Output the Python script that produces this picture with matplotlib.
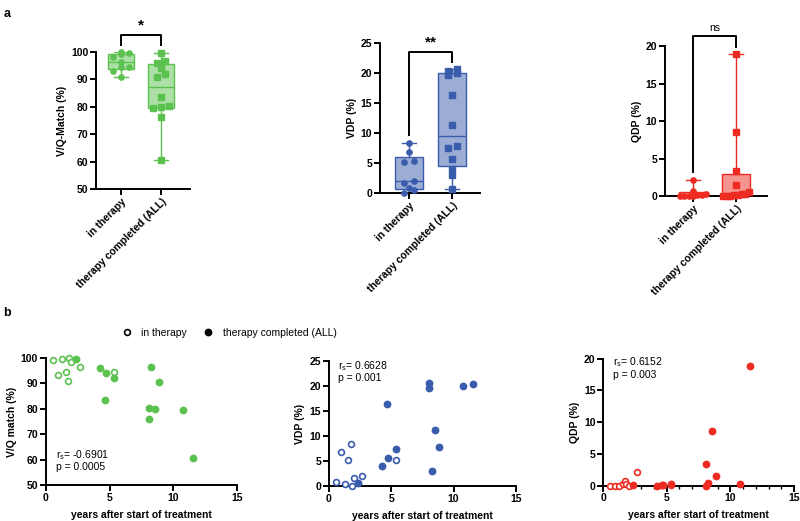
import numpy as np
import matplotlib
matplotlib.use('Agg')
import matplotlib.pyplot as plt
from matplotlib.lines import Line2D
from matplotlib.ticker import MultipleLocator
from matplotlib.colors import to_rgba

plt.rcParams['font.family'] = 'Liberation Sans'
plt.rcParams['mathtext.fontset'] = 'custom'
plt.rcParams['mathtext.rm'] = 'Liberation Sans'
plt.rcParams['mathtext.it'] = 'Liberation Sans'

# years after start of treatment (same patients in every panel)
years_in = [0.56, 0.96, 1.28, 1.57, 1.76, 1.84, 2.0, 2.67, 5.36]
years_done = [2.38, 4.27, 4.64, 4.72, 5.36, 8.06, 8.06, 8.27, 8.54, 8.86, 10.76, 11.56]

vq_in = [99.2, 93.2, 99.6, 94.6, 90.8, 100.0, 98.3, 96.5, 94.6]
vq_done = [99.5, 96.0, 83.5, 94.1, 92.1, 80.4, 76.1, 96.6, 80.1, 90.7, 79.6, 60.7]

vdp_in = [0.8, 6.8, 0.47, 5.2, 8.4, 0.0, 1.67, 2.0, 5.33]
vdp_done = [0.6, 4.07, 16.4, 5.6, 7.53, 20.6, 19.6, 3.0, 11.27, 7.8, 20.07, 20.4]

qdp_in = [0.0, 0.0, 0.0, 0.2, 0.7, 0.3, 0.0, 2.2, 0.1]
qdp_done = [0.15, 0.0, 0.1, 0.05, 0.25, 3.4, 0.0, 0.5, 8.6, 1.5, 0.3, 18.9]

groups = ['in therapy', 'therapy completed (ALL)']
signif = ['*', '**', 'ns']
rs_text = ['r$_\\mathrm{s}$= -0.6901\np = 0.0005',
           'r$_\\mathrm{s}$= 0.6628\np = 0.001',
           'r$_\\mathrm{s}$= 0.6152\np = 0.003']

green = '#5cc24f'
blue = '#3a5cad'
red = '#ee2b22'


def style(ax):
    ax.spines['top'].set_visible(False)
    ax.spines['right'].set_visible(False)
    for s in ['left', 'bottom']:
        ax.spines[s].set_linewidth(1.4)
    ax.tick_params(width=1.4, length=4, labelsize=7.5, pad=1.5)
    for lab in ax.get_yticklabels() + ax.get_xticklabels():
        lab.set_fontweight('bold')


def swarm(vals, thr, step):
    vals = np.asarray(vals)
    order = np.argsort(vals, kind='stable')
    offs = np.zeros(len(vals))
    group = [order[0]]

    def assign(g):
        k = len(g)
        st = step if k < 4 else min(step, 0.6 / (k - 1))
        for j, idx in enumerate(g):
            offs[idx] = (j - (k - 1) / 2) * st

    for i in order[1:]:
        if vals[i] - vals[group[0]] < thr:
            group.append(i)
        else:
            assign(group)
            group = [i]
    assign(group)
    return offs


def box_panel(ax, a, b, color, ylim, yticks, ylabel, xlim, br, sig):
    stats = []
    for v in (a, b):
        q1, med, q3 = np.percentile(v, [25, 50, 75], method='weibull')
        stats.append(dict(med=med, q1=q1, q3=q3, whislo=min(v), whishi=max(v), fliers=[]))
    ax.bxp(stats, positions=[0, 1], widths=0.65, capwidths=0.33, patch_artist=True,
           showfliers=False,
           boxprops=dict(facecolor=to_rgba(color, 0.5), edgecolor=color, linewidth=1.0),
           medianprops=dict(color=color, linewidth=1.0),
           whiskerprops=dict(color=color, linewidth=1.0),
           capprops=dict(color=color, linewidth=1.0))
    rng = ylim[1] - ylim[0]
    for pos, v, mk in ((0, a, 'o'), (1, b, 's')):
        offs = swarm(v, 0.03 * rng, 0.21)
        ax.plot(pos + offs, v, mk, color=color, ms=3.8, ls='none', clip_on=False, zorder=4)
    ax.set_xlim(*xlim)
    ax.set_ylim(*ylim)
    ax.set_yticks(yticks)
    ax.set_xticks([0, 1])
    ax.set_xticklabels(groups, rotation=45, ha='right', rotation_mode='anchor')
    ax.set_ylabel(ylabel, fontsize=7.5, fontweight='bold', labelpad=3)
    style(ax)
    top, l1, l2 = br
    ax.plot([0, 0, 1, 1], [l1, top, top, l2], color='black', lw=1.4, clip_on=False)
    ax.text(0.5, top + 0.02 * rng, sig, ha='center', va='bottom', clip_on=False,
            fontsize=11 if sig != 'ns' else 7.5,
            fontweight='bold' if sig != 'ns' else 'normal')


def scatter_panel(ax, ya, yb, color, ylim, yticks, ylabel, txt, txtpos):
    ax.plot(years_in, ya, 'o', mfc='white', mec=color, mew=1.2, ms=4.2, ls='none', clip_on=False, zorder=4)
    ax.plot(years_done, yb, 'o', color=color, ms=4.6, ls='none', clip_on=False, zorder=4)
    ax.set_xlim(0, 15)
    ax.set_ylim(*ylim)
    ax.set_yticks(yticks)
    ax.set_xticks([0, 5, 10, 15])
    ax.set_xlabel('years after start of treatment', fontsize=7.5, fontweight='bold', labelpad=5)
    ax.set_ylabel(ylabel, fontsize=7.5, fontweight='bold', labelpad=3)
    ax.text(txtpos[0], txtpos[1], txt, transform=ax.transAxes, fontsize=7.5,
            va='center', ha='left', linespacing=1.05)
    style(ax)


fig = plt.figure(figsize=(8, 5.21), dpi=100)

a1 = fig.add_axes([0.12, 0.6372, 0.1175, 0.263])
box_panel(a1, vq_in, vq_done, green, (50, 100), [50, 60, 70, 80, 90, 100], 'V/Q-Match (%)',
          (-0.625, 1.725), (106.2, 102.5, 102.5), signif[0])

a2 = fig.add_axes([0.475, 0.6296, 0.125, 0.2879])
box_panel(a2, vdp_in, vdp_done, blue, (0, 25), [0, 5, 10, 15, 20, 25], 'VDP (%)',
          (-0.674, 1.65), (23.5, 9.7, 21.9), signif[1])

a3 = fig.add_axes([0.83125, 0.6238, 0.1275, 0.2879])
box_panel(a3, qdp_in, qdp_done, red, (0, 20), [0, 5, 10, 15, 20], 'QDP (%)',
          (-0.65, 1.72), (21.3, 3.2, 19.9), signif[2])

b1 = fig.add_axes([0.0571, 0.0685, 0.2395, 0.2443])
scatter_panel(b1, vq_in, vq_done, green, (50, 100), [50, 60, 70, 80, 90, 100],
              'V/Q match (%)', rs_text[0], (0.055, 0.2))

b2 = fig.add_axes([0.4109, 0.0666, 0.2341, 0.2399])
scatter_panel(b2, vdp_in, vdp_done, blue, (0, 25), [0, 5, 10, 15, 20, 25],
              'VDP (%)', rs_text[1], (0.048, 0.92))

b3 = fig.add_axes([0.7538, 0.0678, 0.2388, 0.2438])
scatter_panel(b3, qdp_in, qdp_done, red, (0, 20), [0, 5, 10, 15, 20],
              'QDP (%)', rs_text[2], (0.05, 0.93))
b3.xaxis.set_minor_locator(MultipleLocator(1))
b3.tick_params(which='minor', length=2.5, width=1.0)

handles = [Line2D([], [], marker='o', ls='none', mfc='white', mec='black', mew=1.2, ms=4.2),
           Line2D([], [], marker='o', ls='none', color='black', ms=4.6)]
fig.legend(handles, groups, loc='center', bbox_to_anchor=(0.283, 0.361), ncol=2,
           frameon=False, fontsize=7.5, handletextpad=0.4, columnspacing=1.0)

fig.text(0.004, 0.985, 'a', fontsize=9, fontweight='bold', va='top')
fig.text(0.004, 0.41, 'b', fontsize=9, fontweight='bold', va='top')

plt.savefig('out.png', dpi=100)
